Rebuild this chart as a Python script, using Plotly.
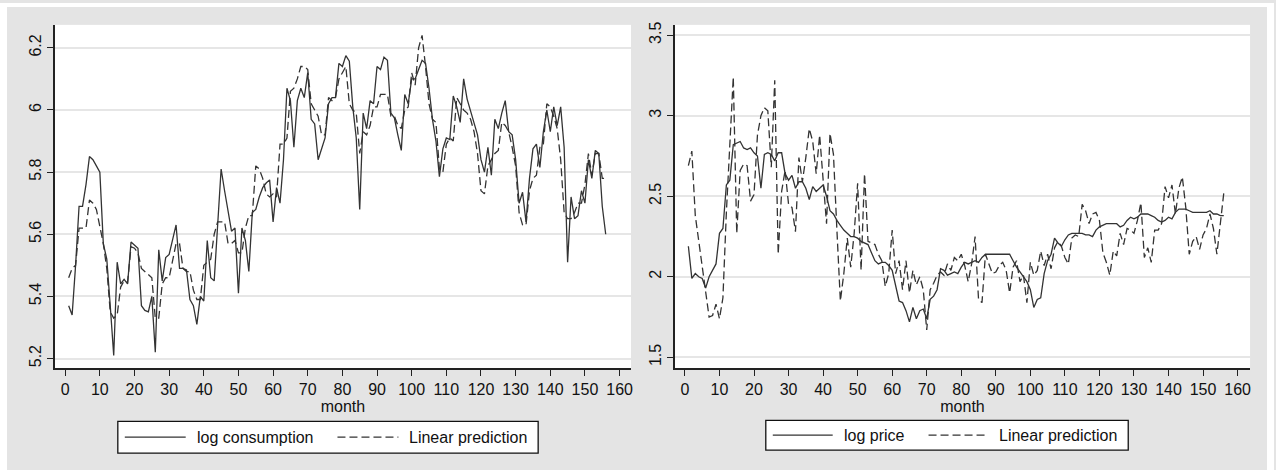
import plotly.graph_objects as go

W, H = 1276, 470

month = list(range(1, 157))

log_consumption = [
    5.37, 5.34, 5.50, 5.69, 5.69, 5.76, 5.85, 5.84, 5.82, 5.80,
    5.57, 5.52, 5.37, 5.21, 5.51, 5.44, 5.455, 5.44, 5.575, 5.565,
    5.555, 5.37, 5.355, 5.35, 5.40, 5.22, 5.55, 5.45, 5.525, 5.535,
    5.58, 5.63, 5.49, 5.49, 5.485, 5.39, 5.37, 5.31, 5.40, 5.385,
    5.58, 5.46, 5.45, 5.64, 5.81, 5.74, 5.67, 5.61, 5.62, 5.41,
    5.62, 5.58, 5.48, 5.67, 5.68, 5.72, 5.75, 5.765, 5.775, 5.64,
    5.75, 5.70, 5.84, 6.07, 6.03, 5.88, 6.03, 6.07, 6.04, 6.12,
    5.97, 5.955, 5.84, 5.875, 5.91, 6.02, 6.04, 6.04, 6.15, 6.14,
    6.175, 6.157, 6.01, 5.91, 5.68, 5.99, 5.94, 6.03, 6.02, 6.14,
    6.13, 6.17, 6.16, 5.99, 5.975, 5.92, 5.87, 6.05, 6.02, 6.10,
    6.10, 6.13, 6.16, 6.15, 6.07, 5.97, 5.90, 5.785, 5.875, 5.91,
    5.905, 6.045, 6.01, 5.96, 6.10, 6.035, 5.997, 5.96, 5.92, 5.84,
    5.80, 5.88, 5.79, 5.97, 5.94, 5.99, 6.03, 5.93, 5.92, 5.84,
    5.70, 5.735, 5.64, 5.78, 5.875, 5.89, 5.815, 5.93, 6.00, 5.93,
    6.01, 5.95, 6.01, 5.88, 5.51, 5.72, 5.65, 5.66, 5.74, 5.70,
    5.84, 5.78, 5.87, 5.86, 5.69, 5.60,
]

pred_consumption = [
    5.46, 5.49, 5.50, 5.62, 5.62, 5.62, 5.71, 5.70, 5.68, 5.62,
    5.57, 5.49, 5.35, 5.33, 5.34, 5.43, 5.45, 5.445, 5.56, 5.555,
    5.54, 5.49, 5.48, 5.47, 5.46, 5.33, 5.33, 5.44, 5.46, 5.46,
    5.52, 5.57, 5.57, 5.49, 5.48, 5.48, 5.42, 5.39, 5.39, 5.50,
    5.51, 5.52, 5.60, 5.64, 5.64, 5.64, 5.57, 5.57, 5.58, 5.54,
    5.54, 5.62, 5.66, 5.66, 5.82, 5.81, 5.78, 5.73, 5.72, 5.73,
    5.72, 5.89, 5.89, 5.91, 6.06, 6.07, 6.10, 6.14, 6.14, 6.13,
    6.02, 6.00, 5.98, 5.92, 5.92, 6.04, 6.03, 6.04, 6.10, 6.12,
    6.14, 6.02, 6.00, 5.99, 5.86, 5.93, 5.92, 5.95, 6.01, 6.01,
    6.05, 6.05, 6.05, 5.98, 5.98, 5.95, 5.94, 6.00, 6.01, 6.12,
    6.08, 6.20, 6.24, 6.14, 6.02, 5.97, 5.96, 5.81, 5.80, 5.89,
    5.91, 5.90, 6.04, 6.02, 6.00, 5.99, 5.97, 5.93, 5.86, 5.74,
    5.73, 5.82, 5.84, 5.86, 5.87, 5.96, 5.95, 5.93, 5.88, 5.82,
    5.67, 5.63, 5.63, 5.74, 5.78, 5.79, 5.88, 5.89, 6.02, 6.01,
    5.98, 5.94, 5.84, 5.67, 5.65, 5.65, 5.67, 5.70, 5.70, 5.76,
    5.86, 5.79, 5.86, 5.86, 5.78, 5.78,
]

log_price = [
    2.19, 1.99, 2.02, 2.00, 1.99, 1.93, 2.00, 2.04, 2.08, 2.27,
    2.30, 2.57, 2.60, 2.82, 2.83, 2.84, 2.80, 2.79, 2.80, 2.77,
    2.75, 2.55, 2.76, 2.77, 2.76, 2.72, 2.77, 2.77, 2.64, 2.60,
    2.63, 2.55, 2.59, 2.59, 2.55, 2.48, 2.56, 2.53, 2.55, 2.57,
    2.50, 2.41, 2.39, 2.35, 2.32, 2.29, 2.27, 2.25, 2.25, 2.24,
    2.22, 2.21, 2.20, 2.15, 2.10, 2.08, 2.09, 2.09, 2.07, 2.04,
    1.95, 1.85, 1.84, 1.79, 1.72, 1.81, 1.74, 1.79, 1.80, 1.74,
    1.86, 1.88, 1.92, 2.05, 2.04, 2.01, 2.02, 2.03, 2.02, 2.06,
    2.09, 2.08, 2.09, 2.10, 2.09, 2.12, 2.14, 2.14, 2.14, 2.14,
    2.14, 2.14, 2.14, 2.14, 2.10, 2.06, 2.03, 2.00, 1.97, 1.92,
    1.81, 1.86, 1.87, 2.02, 2.10, 2.14, 2.24, 2.21, 2.19, 2.23,
    2.26, 2.27, 2.27, 2.27, 2.27, 2.26, 2.26, 2.25, 2.29, 2.31,
    2.32, 2.33, 2.33, 2.33, 2.33, 2.31, 2.32, 2.35, 2.37, 2.36,
    2.37, 2.39, 2.39, 2.39, 2.38, 2.37, 2.35, 2.34, 2.35, 2.37,
    2.36, 2.40, 2.42, 2.42, 2.42, 2.41, 2.40, 2.40, 2.40, 2.40,
    2.40, 2.41, 2.39, 2.39, 2.38, 2.38,
]

pred_price = [
    2.69, 2.78, 2.38, 2.22, 2.05, 1.90, 1.75, 1.76, 1.83, 1.74,
    1.87, 2.40, 2.86, 3.24, 2.27, 2.66, 2.70, 2.69, 2.47, 2.51,
    2.88, 3.00, 3.05, 3.03, 2.68, 3.22, 2.14, 2.53, 2.66, 2.45,
    2.43, 2.28, 2.74, 2.59, 2.74, 2.92, 2.84, 2.64, 2.88, 2.63,
    2.33, 2.89, 2.76, 2.29, 1.85, 2.02, 2.24, 2.06, 2.27, 2.58,
    2.04, 2.64, 2.22, 2.21, 2.20, 2.14, 2.10, 1.94, 2.02, 2.29,
    2.02, 2.10, 1.92, 2.10, 1.90, 2.04, 1.95, 2.00, 1.92, 1.67,
    1.92, 1.96, 2.01, 2.03, 2.01, 2.08, 2.04, 2.12, 2.10, 2.14,
    2.07, 1.97, 2.08, 2.25, 1.86, 1.84, 2.14, 2.08, 2.02, 2.03,
    2.07, 2.09, 2.04, 1.90, 2.06, 2.10, 1.97, 2.01, 1.84, 2.09,
    2.01, 2.04, 2.16, 2.07, 2.14, 2.05, 2.18, 2.22, 2.19, 2.12,
    2.08, 2.24, 2.26, 2.25, 2.45, 2.41, 2.33, 2.39, 2.40, 2.35,
    2.15, 2.09, 2.01, 2.16, 2.13, 2.27, 2.20, 2.30, 2.29, 2.27,
    2.35, 2.46, 2.12, 2.18, 2.09, 2.29, 2.29, 2.33, 2.56, 2.49,
    2.57, 2.39, 2.55, 2.62, 2.43, 2.14, 2.22, 2.25, 2.17, 2.26,
    2.30, 2.39, 2.30, 2.14, 2.35, 2.52,
]

x_ticks = list(range(0, 161, 10))
y1_ticks = [5.2, 5.4, 5.6, 5.8, 6.0, 6.2]
y1_labels = ["5.2", "5.4", "5.6", "5.8", "6", "6.2"]
y2_ticks = [1.5, 2.0, 2.5, 3.0, 3.5]
y2_labels = ["1.5", "2", "2.5", "3", "3.5"]

legend1 = ["log consumption", "Linear prediction"]
legend2 = ["log price", "Linear prediction"]

LINE = "#333333"
AX = "#222222"
GRID = "#e6e6e6"
BG = "#e4e4e4"
FONT = "Liberation Sans, Arial, sans-serif"
DASH = "8px,4px"


def px(x):
    return x / W


def py(y):
    return 1 - y / H


fig = go.Figure()
fig.add_trace(go.Scatter(x=month, y=log_consumption, mode="lines", name=legend1[0],
                         line=dict(color=LINE, width=1.3), xaxis="x", yaxis="y",
                         showlegend=False))
fig.add_trace(go.Scatter(x=month, y=pred_consumption, mode="lines", name=legend1[1],
                         line=dict(color=LINE, width=1.3, dash=DASH), xaxis="x", yaxis="y",
                         showlegend=False))
fig.add_trace(go.Scatter(x=month, y=log_price, mode="lines", name=legend2[0],
                         line=dict(color=LINE, width=1.3), xaxis="x2", yaxis="y2",
                         showlegend=False))
fig.add_trace(go.Scatter(x=month, y=pred_price, mode="lines", name=legend2[1],
                         line=dict(color=LINE, width=1.3, dash=DASH), xaxis="x2", yaxis="y2",
                         showlegend=False))

ydom = [py(367.5), py(22)]
common_x = dict(showline=True, linecolor=AX, linewidth=1.5, ticks="outside", ticklen=6,
                tickwidth=1.2, tickcolor=AX, tickvals=x_ticks, showgrid=False, zeroline=False,
                tickfont=dict(family=FONT, size=16, color="#111111"),
                title=dict(text="month", font=dict(family=FONT, size=16, color="#111111"),
                           standoff=0))
common_y = dict(showline=True, linecolor=AX, linewidth=1.5, ticks="outside", ticklen=6,
                tickwidth=1.2, tickcolor=AX, showgrid=True, gridcolor=GRID, gridwidth=1.5,
                zeroline=False, tickangle=-90,
                tickfont=dict(family=FONT, size=16, color="#111111"))

fig.update_layout(
    width=W, height=H,
    margin=dict(l=0, r=0, t=0, b=0),
    paper_bgcolor=BG,
    plot_bgcolor="white",
    showlegend=False,
    xaxis=dict(domain=[px(55), px(632)], range=[-2.97, 163.3], anchor="y", **common_x),
    yaxis=dict(domain=ydom, range=[5.169, 6.274], anchor="x", tickvals=y1_ticks,
               ticktext=y1_labels, **common_y),
    xaxis2=dict(domain=[px(676), px(1252)], range=[-2.89, 163.6], anchor="y2", **common_x),
    yaxis2=dict(domain=ydom, range=[1.433, 3.564], anchor="x2", tickvals=y2_ticks,
                ticktext=y2_labels, **common_y),
)

shapes = []
# white outer strips around the grey graph region
shapes.append(dict(type="rect", xref="paper", yref="paper", x0=0, x1=px(7), y0=0, y1=1,
                   fillcolor="white", line=dict(width=0), layer="below"))
shapes.append(dict(type="rect", xref="paper", yref="paper", x0=px(1269), x1=1, y0=0, y1=1,
                   fillcolor="white", line=dict(width=0), layer="below"))
shapes.append(dict(type="rect", xref="paper", yref="paper", x0=0, x1=1, y0=py(4), y1=1,
                   fillcolor="white", line=dict(width=0), layer="below"))

annotations = []


def add_legend(box, solid_seg, dash_seg, ycen, labels, text_x):
    x0, x1, y0, y1 = box
    shapes.append(dict(type="rect", xref="paper", yref="paper", x0=px(x0), x1=px(x1),
                       y0=py(y1), y1=py(y0), fillcolor="white",
                       line=dict(color="#111111", width=1.3)))
    shapes.append(dict(type="line", xref="paper", yref="paper", x0=px(solid_seg[0]),
                       x1=px(solid_seg[1]), y0=py(ycen), y1=py(ycen),
                       line=dict(color=LINE, width=1.3)))
    shapes.append(dict(type="line", xref="paper", yref="paper", x0=px(dash_seg[0]),
                       x1=px(dash_seg[1]), y0=py(ycen), y1=py(ycen),
                       line=dict(color=LINE, width=1.3, dash=DASH)))
    for lab, tx in zip(labels, text_x):
        annotations.append(dict(text=lab, xref="paper", yref="paper", x=px(tx), y=py(ycen),
                                xanchor="left", yanchor="middle", showarrow=False,
                                font=dict(family=FONT, size=16, color="#111111")))


add_legend((118, 539, 421, 453), (125, 186), (338, 399), 437, legend1, (195, 408))
add_legend((767, 1130, 420, 450), (774, 834), (930, 990), 435, legend2, (843, 999))

fig.update_layout(shapes=shapes, annotations=annotations)

fig.write_html(
    "out.html",
    config={"displayModeBar": False},
    post_script="document.body.style.margin='0';document.body.style.overflow='hidden';",
)
